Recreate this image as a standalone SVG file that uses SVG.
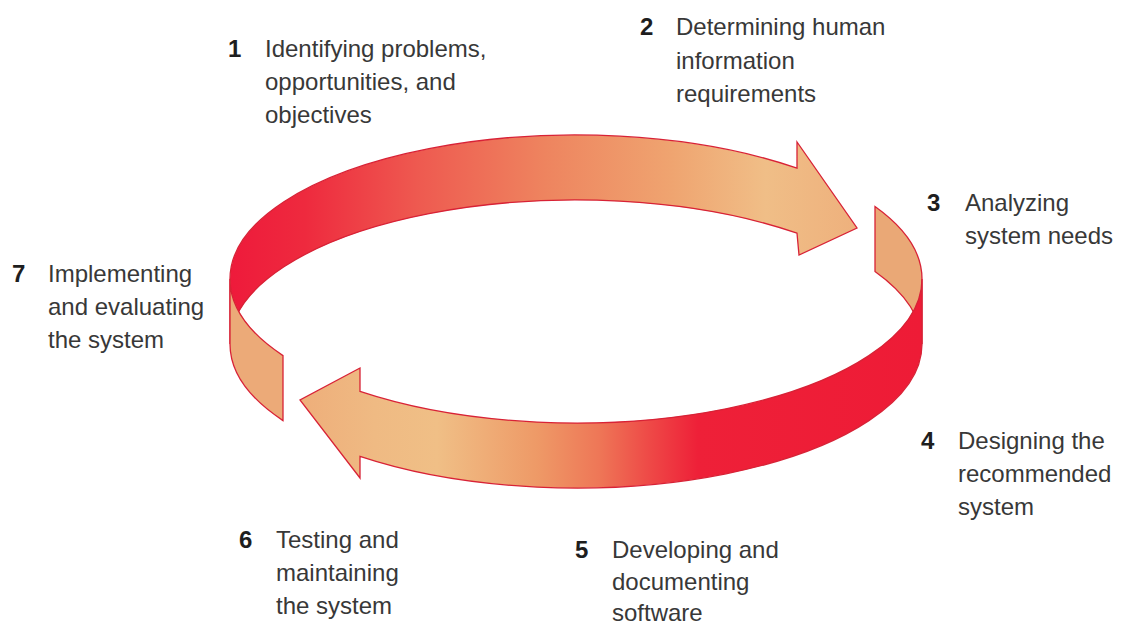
<svg xmlns="http://www.w3.org/2000/svg" width="1131" height="628" viewBox="0 0 1131 628">
<defs>
<linearGradient id="gTop" gradientUnits="userSpaceOnUse" x1="230" y1="0" x2="860" y2="0">
<stop offset="0" stop-color="#EE1A3B"/>
<stop offset="0.12" stop-color="#EE2A3E"/>
<stop offset="0.3" stop-color="#EE5A50"/>
<stop offset="0.5" stop-color="#EE845F"/>
<stop offset="0.7" stop-color="#EFA470"/>
<stop offset="0.85" stop-color="#F0BE87"/>
<stop offset="1" stop-color="#EEB07C"/>
</linearGradient>
<linearGradient id="gFront" gradientUnits="userSpaceOnUse" x1="300" y1="0" x2="922" y2="0">
<stop offset="0" stop-color="#EEAE7A"/>
<stop offset="0.12" stop-color="#EFBA83"/>
<stop offset="0.22" stop-color="#F0BF86"/>
<stop offset="0.38" stop-color="#EE9A67"/>
<stop offset="0.48" stop-color="#EE7757"/>
<stop offset="0.56" stop-color="#EE4A47"/>
<stop offset="0.64" stop-color="#EE2038"/>
<stop offset="1" stop-color="#EE1B36"/>
</linearGradient>
<style>
.band{stroke:#D82236;stroke-width:1.3;stroke-linejoin:miter}
.lbl{font-family:"Liberation Sans",Arial,sans-serif;font-size:24px;fill:#383838}
.num{font-family:"Liberation Sans",Arial,sans-serif;font-size:24px;font-weight:bold;fill:#1E1E1E}
</style>
</defs>
<g id="cycle">
<path id="back-right" class="band" fill="#EAA876" d="M875 206.54 A346 144 0 0 1 922 279 L922 344 A346 144 0 0 0 875 271.54 Z"/>
<path id="arrow-top" class="band" fill="url(#gTop)" d="M230 279 A346 144 0 0 1 797 168.2 L797 142 L857 228 L799 255 L797 233.2 A346 144 0 0 0 230 344 Z"/>
<path id="arrow-bottom" class="band" fill="url(#gFront)" d="M922 279 A346 144 0 0 1 360 391.49 L360 368 L300 400 L360 478 L360 456.49 A346 144 0 0 0 922 344 Z"/>
<path id="front-left" class="band" fill="#ECAA78" d="M283 355.59 A346 144 0 0 1 230 279 L230 344 A346 144 0 0 0 283 420.59 Z"/>
</g>
<g id="step1"><text class="num" x="228" y="57">1</text><text class="lbl" x="265" y="57">Identifying problems,</text><text class="lbl" x="265" y="90">opportunities, and</text><text class="lbl" x="265" y="123">objectives</text></g>
<g id="step2"><text class="num" x="640" y="35">2</text><text class="lbl" x="676" y="35">Determining human</text><text class="lbl" x="676" y="69">information</text><text class="lbl" x="676" y="102">requirements</text></g>
<g id="step3"><text class="num" x="927" y="211">3</text><text class="lbl" x="965" y="211">Analyzing</text><text class="lbl" x="965" y="244">system needs</text></g>
<g id="step4"><text class="num" x="921" y="449">4</text><text class="lbl" x="958" y="449">Designing the</text><text class="lbl" x="958" y="482">recommended</text><text class="lbl" x="958" y="515">system</text></g>
<g id="step5"><text class="num" x="575" y="558">5</text><text class="lbl" x="612" y="558">Developing and</text><text class="lbl" x="612" y="590">documenting</text><text class="lbl" x="612" y="621">software</text></g>
<g id="step6"><text class="num" x="239" y="548">6</text><text class="lbl" x="276" y="548">Testing and</text><text class="lbl" x="276" y="581">maintaining</text><text class="lbl" x="276" y="614">the system</text></g>
<g id="step7"><text class="num" x="12" y="282">7</text><text class="lbl" x="48" y="282">Implementing</text><text class="lbl" x="48" y="315">and evaluating</text><text class="lbl" x="48" y="348">the system</text></g>
</svg>
